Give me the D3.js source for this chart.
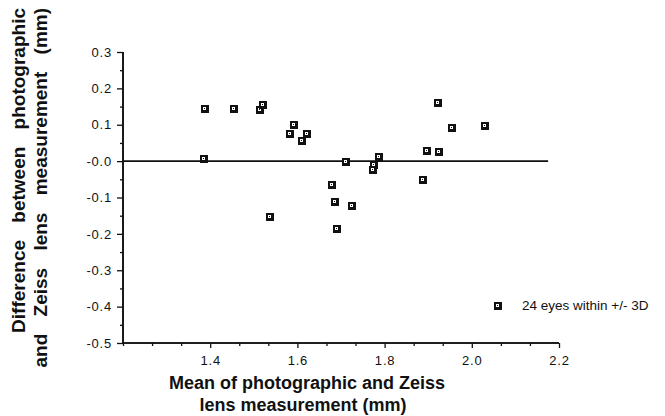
<!DOCTYPE html>
<html>
<head>
<meta charset="utf-8">
<script src="https://cdn.jsdelivr.net/npm/d3@7"></script>
<style>
	body { margin: 0; background: #fff; }
	svg { display: block; }
	.tick-label { font-family: "Liberation Sans", Arial, sans-serif; font-size: 13px; letter-spacing: 0.8px; fill: #111; }
	.title { font-family: "Liberation Sans", Arial, sans-serif; font-size: 18px; font-weight: bold; fill: #111; }
	.ytitle { font-family: "Liberation Sans", Arial, sans-serif; font-size: 19px; font-weight: bold; fill: #111; word-spacing: 12px; }
</style>
</head>
<body>
<div id="graph"></div>
<script>
// mean of the two measurements (mm)
const xValues = [1.386, 1.452, 1.512, 1.518, 1.383, 1.591, 1.581, 1.620, 1.608, 1.709, 1.784, 1.774,
	1.771, 1.677, 1.685, 1.722, 1.536, 1.689, 1.952, 2.029, 1.896, 1.923, 1.885, 1.920];
// difference photographic - Zeiss (mm)
const yValues = [0.147, 0.147, 0.143, 0.156, 0.008, 0.103, 0.078, 0.078, 0.057, 0.000, 0.013, -0.009,
	-0.022, -0.062, -0.110, -0.120, -0.151, -0.184, 0.095, 0.100, 0.031, 0.027, -0.050, 0.163];

const xTicks = [1.4, 1.6, 1.8, 2.0, 2.2];
const xTickLabels = ["1.4", "1.6", "1.8", "2.0", "2.2"];
const yTicks = [0.3, 0.2, 0.1, 0.0, -0.1, -0.2, -0.3, -0.4, -0.5];
const yTickLabels = ["0.3", "0.2", "0.1", "-0.0", "-0.1", "-0.2", "-0.3", "-0.4", "-0.5"];
const xDomain = [1.2, 2.2];
const yDomain = [-0.5, 0.3];
const zeroLineEnd = 2.175;
const legendLabel = "24 eyes within +/- 3D";
const xTitle = ["Mean of photographic and Zeiss", "lens measurement (mm)"];
const yTitle = ["Difference between photographic", "and Zeiss lens measurement (mm)"];

const width = 665, height = 416;
const ink = "#111";

let svg = d3.select("#graph").append("svg").attr("width", width).attr("height", height);

// scales, pixel ranges
let x = d3.scaleLinear().domain(xDomain).range([123, 559]);
let y = d3.scaleLinear().domain(yDomain).range([343, 52]);

// x axis with major + minor ticks (minor every 0.2/3)
let xMinor = d3.range(0, 16).map(i => 1.2 + i / 15).filter(v => !xTicks.some(t => Math.abs(t - v) < 1e-6));
let xAxis = svg.append('g').attr('transform', `translate(0, ${y(-0.5)})`);
xAxis.call(d3.axisBottom(x).tickValues(xMinor).tickSize(3).tickFormat(""));
let xAxisMaj = svg.append('g').attr('transform', `translate(0, ${y(-0.5)})`)
	.call(d3.axisBottom(x).tickValues(xTicks).tickSize(5).tickFormat((d, i) => xTickLabels[i]).tickPadding(8));

// y axis, minor every 0.05
let yMinor = d3.range(0, 17).map(i => -0.5 + i * 0.05).filter(v => !yTicks.some(t => Math.abs(t - v) < 1e-6));
let yAxis = svg.append('g').attr('transform', `translate(${x(1.2)}, 0)`);
yAxis.call(d3.axisLeft(y).tickValues(yMinor).tickSize(3).tickFormat(""));
let yAxisMaj = svg.append('g').attr('transform', `translate(${x(1.2)}, 0)`)
	.call(d3.axisLeft(y).tickValues(yTicks).tickSize(6).tickFormat((d, i) => yTickLabels[i]).tickPadding(5));

svg.selectAll('.domain').attr('stroke', ink).attr('stroke-width', 1.6);
svg.selectAll('.tick line').attr('stroke', ink).attr('stroke-width', 1.3);
svg.selectAll('.tick text').attr('class', 'tick-label').attr('fill', ink);
// domain path draws outer ticks; keep them zero
xAxis.select('.domain').attr('d', `M${x(1.2)},0H${x(2.2)}`);
xAxisMaj.select('.domain').attr('d', `M${x(1.2)},0H${x(2.2)}`);
yAxis.select('.domain').attr('d', `M0,${y(-0.5)}V${y(0.3)}`);
yAxisMaj.select('.domain').attr('d', `M0,${y(-0.5)}V${y(0.3)}`);

// zero line
svg.append('line')
	.attr('x1', x(1.2)).attr('x2', x(zeroLineEnd))
	.attr('y1', y(0)).attr('y2', y(0))
	.attr('stroke', ink).attr('stroke-width', 1.7);

// square-with-dot markers
function marker(g){
	g.append('rect').attr('x', -4).attr('y', -4).attr('width', 8).attr('height', 8).attr('fill', ink);
	g.append('rect').attr('x', -1.5).attr('y', -1.5).attr('width', 3).attr('height', 3).attr('fill', '#fff');
	g.append('rect').attr('x', -0.5).attr('y', -0.5).attr('width', 1).attr('height', 1).attr('fill', ink);
}

let pts = xValues.map((d, i) => ({x: d, y: yValues[i]}));
svg.append('g').selectAll('g.pt').data(pts).enter().append('g')
	.attr('class', 'pt')
	.attr('shape-rendering', 'crispEdges')
	.attr('transform', d => `translate(${Math.round(x(d.x)) + 0.5}, ${Math.round(y(d.y)) + 0.5})`)
	.each(function(){ marker(d3.select(this)); });

// legend
let legend = svg.append('g').attr('transform', 'translate(497.5, 305.5)').attr('shape-rendering', 'crispEdges');
marker(legend);
svg.append('text').attr('x', 522).attr('y', 310)
	.attr('font-family', '"Liberation Sans", Arial, sans-serif').attr('font-size', 13.5)
	.attr('fill', ink).text(legendLabel);

// x title
svg.append('text').attr('class', 'title').attr('text-anchor', 'middle')
	.attr('x', 307).attr('y', 389).text(xTitle[0]);
svg.append('text').attr('class', 'title').attr('text-anchor', 'middle')
	.attr('x', 303).attr('y', 411).text(xTitle[1]);

// y title, rotated, words spread out a little
svg.append('text').attr('class', 'ytitle').attr('text-anchor', 'end')
	.attr('transform', 'translate(25, 8) rotate(-90)').text(yTitle[0]);
svg.append('text').attr('class', 'ytitle').attr('text-anchor', 'end')
	.attr('transform', 'translate(47, 8) rotate(-90)').text(yTitle[1]);
</script>
</body>
</html>
